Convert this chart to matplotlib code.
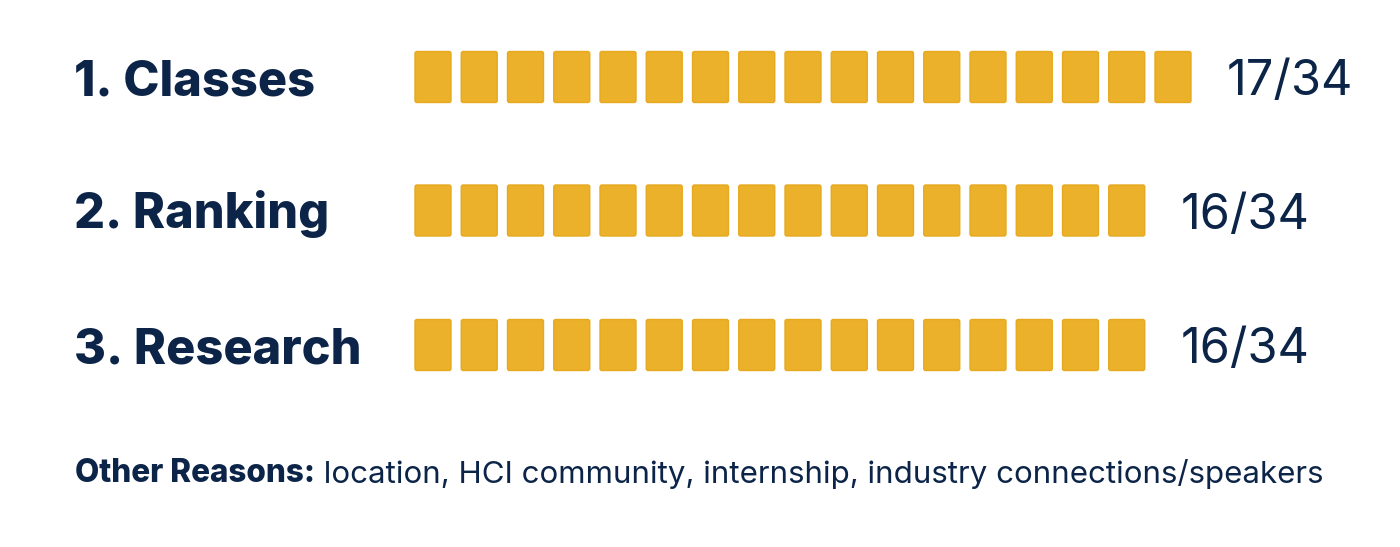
import matplotlib.pyplot as plt
from matplotlib.patches import FancyBboxPatch

# data
reasons = ["1. Classes", "2. Ranking", "3. Research"]
counts = [17, 16, 16]
total = 34
other_title = "Other Reasons:"
other_text = " location, HCI community, internship, industry connections/speakers"

navy = "#0b2447"
gold = "#ebb12a"
gold_edge = "#e6a91f"

fig = plt.figure(figsize=(14, 5.47), dpi=100)
ax = fig.add_axes([0, 0, 1, 1])
ax.set_xlim(0, 1400)
ax.set_ylim(547, 0)
ax.axis("off")

x0 = 415      # left of first box
pitch = 46.25
w, h = 36, 51
row_y = [77, 210.5, 345]

for label, n, yc in zip(reasons, counts, row_y):
    # baseline sits 18px below the row middle
    ax.text(74, yc + 18, label, fontsize=35, fontweight="heavy", family="Inter",
            color=navy, va="baseline", ha="left")
    for i in range(n):
        box = FancyBboxPatch((x0 + i * pitch, yc - h / 2), w, h,
                             boxstyle="round,pad=0,rounding_size=2",
                             facecolor=gold, edgecolor=gold_edge, lw=1)
        ax.add_patch(box)
    end = x0 + (n - 1) * pitch + w
    ax.text(end + 36, yc + 18, f"{n}/{total}", fontsize=35, family="Inter",
            color=navy, va="baseline", ha="left")

t = ax.text(75, 482, other_title, fontsize=22.7, fontweight="heavy", family="Inter",
            color=navy, va="baseline", ha="left")
ax.annotate(other_text, xy=(1, 0), xycoords=t, va="bottom", ha="left",
            fontsize=22.5, family="Inter", color=navy)

fig.savefig("out.png", dpi=100)
